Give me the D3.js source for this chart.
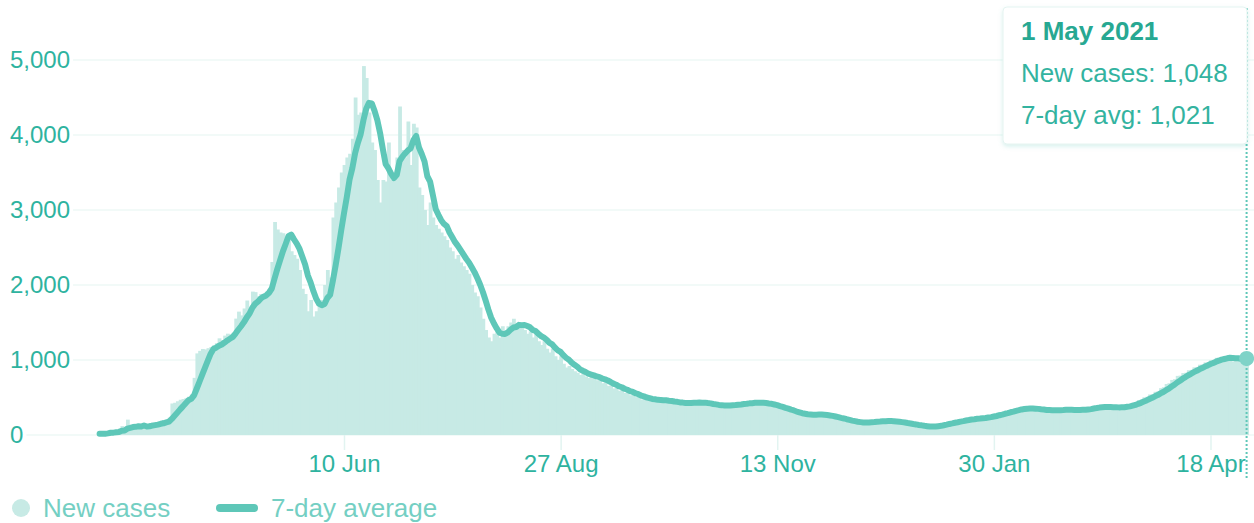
<!DOCTYPE html>
<html>
<head>
<meta charset="utf-8">
<script src="https://cdn.jsdelivr.net/npm/d3@7"></script>
<style>
  body { margin: 0; background: #fff; }
  svg { display: block; font-family: "Liberation Sans", Arial, Helvetica, sans-serif; }
</style>
</head>
<body>
<div id="chart"></div>
<script>
// Daily new cases, 14 Mar 2020 -> 1 May 2021 (one row per week)
var startDate = "2020-03-14";
var newCases = [
  17, 15, 15, 38, 67, 36, 70,
  48, 119, 51, 205, 133, 112, 92,
  99, 96, 154, 110, 157, 165, 140,
  150, 170, 200, 190, 230, 420, 430,
  450, 470, 480, 490, 510, 540, 762,
  1088, 1122, 1147, 1141, 1158, 1172, 1197,
  1223, 1289, 1266, 1325, 1351, 1344, 1362,
  1552, 1645, 1595, 1687, 1793, 1701, 1912,
  1905, 1850, 1880, 1870, 1910, 1950, 2307,
  2840, 2740, 2700, 2690, 2600, 2680, 2450,
  2400, 2350, 2200, 1950, 1880, 1650, 1800,
  1580, 1650, 1750, 1800, 2000, 2200, 2100,
  2900, 3100, 3300, 3500, 3600, 3700, 3750,
  3950, 4500, 4270, 4300, 4919, 4760, 4300,
  3900, 3800, 3400, 3100, 3400, 3380, 3900,
  3400, 3400, 3700, 4380, 3800, 3700, 4180,
  3600, 4150, 4100, 3300, 3200, 3000, 2800,
  3100, 2900, 2800, 2750, 2700, 2650, 2600,
  2500, 2450, 2350, 2400, 2300, 2250, 2200,
  2150, 2000, 1900, 1850, 1700, 1550, 1400,
  1300, 1250, 1350, 1400, 1300, 1450, 1380,
  1450, 1500, 1550, 1450, 1500, 1420, 1400,
  1350, 1380, 1300, 1350, 1250, 1200, 1250,
  1150, 1100, 1150, 1050, 1000, 1050, 950,
  900, 920, 880, 850, 830, 800, 820,
  780, 760, 800, 775, 730, 735, 690,
  700, 655, 662, 620, 630, 590, 600,
  560, 565, 530, 540, 505, 510, 475,
  480, 460, 475, 462, 470, 458, 468,
  450, 455, 435, 440, 420, 428, 415,
  430, 420, 438, 428, 442, 433, 440,
  420, 418, 398, 400, 385, 396, 390,
  400, 392, 402, 395, 408, 405, 422,
  418, 436, 428, 437, 427, 435, 426,
  432, 418, 414, 394, 391, 372, 367,
  348, 344, 323, 318, 297, 291, 272,
  270, 265, 273, 268, 275, 271, 278,
  272, 268, 252, 250, 235, 232, 217,
  214, 199, 196, 181, 178, 163, 158,
  157, 168, 166, 176, 175, 185, 183,
  190, 184, 189, 185, 188, 177, 176,
  164, 162, 151, 149, 138, 137, 126,
  125, 114, 113, 104, 105, 108, 124,
  127, 143, 145, 158, 160, 173, 175,
  189, 190, 204, 205, 217, 214, 223,
  220, 229, 226, 238, 240, 257, 259,
  277, 278, 297, 298, 316, 318, 336,
  337, 355, 356, 365, 353, 356, 344,
  347, 335, 338, 327, 329, 322, 331,
  327, 337, 332, 341, 337, 343, 332,
  333, 321, 334, 335, 349, 350, 364,
  364, 379, 373, 380, 370, 376, 367,
  372, 363, 369, 361, 380, 384, 405,
  409, 430, 437, 466, 472, 503, 509,
  540, 545, 576, 581, 625, 637, 680,
  690, 734, 744, 788, 792, 826, 830,
  864, 868, 902, 907, 937, 940, 968,
  970, 998, 1000, 1029, 1030, 1040, 1028,
  1035, 1040, 980, 1010, 1030, 1000, 1039,
  1048
];
var yTicks = [0, 1000, 2000, 3000, 4000, 5000];
var xTickDates = ["2020-06-10", "2020-08-27", "2020-11-13", "2021-01-30", "2021-04-18"];
var legendLabels = ["New cases", "7-day average"];

var W = 1254, H = 523;
var lineColor = "#5ec7b8";
var barColor = "#c7eae5";
var axisText = "#2eb39f";
var legendText = "#74cfc3";
var gridColor = "#eef8f6";

var parseDate = d3.timeParse("%Y-%m-%d");
var fmtNum = d3.format(",");
var fmtTick = d3.timeFormat("%-d %b");
var fmtTip = d3.timeFormat("%-d %B %Y");

var t0 = parseDate(startDate);
var data = newCases.map(function(v, i) {
  var win = newCases.slice(Math.max(0, i - 6), i + 1);
  return { date: d3.timeDay.offset(t0, i), value: v, avg: d3.mean(win) };
});
var last = data[data.length - 1];

var x = d3.scaleTime().domain([t0, last.date]).range([99.6, 1246.6]);
var y = d3.scaleLinear().domain([0, 5000]).range([435, 60]);
var step = x(data[1].date) - x(data[0].date);

var svg = d3.select("#chart").append("svg")
  .attr("width", W).attr("height", H);

var defs = svg.append("defs");
var shadow = defs.append("filter").attr("id", "tipShadow")
  .attr("x", "-10%").attr("y", "-10%").attr("width", "120%").attr("height", "130%");
shadow.append("feDropShadow")
  .attr("dx", 0).attr("dy", 2).attr("stdDeviation", 2)
  .attr("flood-color", "#5ec7b8").attr("flood-opacity", 0.25);

// y labels + grid
var yAxisG = svg.append("g").attr("class", "y axis");
yTicks.forEach(function(t) {
  var label = yAxisG.append("text")
    .attr("x", 10).attr("y", y(t)).attr("dy", "0.35em")
    .attr("fill", axisText).attr("font-size", 24)
    .text(fmtNum(t));
  var len = label.node().getComputedTextLength();
  yAxisG.insert("line", "text")
    .attr("x1", 10 + len + 3).attr("x2", W)
    .attr("y1", y(t)).attr("y2", y(t))
    .attr("stroke", gridColor).attr("stroke-width", 1.5);
});

// x axis
var xAxis = d3.axisBottom(x)
  .tickValues(xTickDates.map(parseDate))
  .tickFormat(fmtTick)
  .tickSize(15).tickPadding(5);
var xAxisG = svg.append("g").attr("class", "x axis")
  .attr("transform", "translate(0," + y(0) + ")")
  .call(xAxis);
xAxisG.select(".domain").remove();
xAxisG.selectAll("line").attr("stroke", "#e2f4f1").attr("stroke-width", 1.5);
xAxisG.selectAll("text").attr("fill", axisText).attr("font-size", 24)
  .attr("font-family", "Liberation Sans, Arial, sans-serif");

// bars (a little overlap so no seams show between days)
svg.append("g").attr("class", "bars")
  .selectAll("rect").data(data).enter().append("rect")
  .attr("x", function(d) { return x(d.date) - step / 2; })
  .attr("width", step + 1)
  .attr("y", function(d) { return y(d.value); })
  .attr("height", function(d) { return y(0) - y(d.value); })
  .attr("fill", barColor);

// 7-day average line
var line = d3.line()
  .x(function(d) { return x(d.date); })
  .y(function(d) { return y(d.avg); });
svg.append("path").datum(data)
  .attr("d", line)
  .attr("fill", "none")
  .attr("stroke", lineColor)
  .attr("stroke-width", 6)
  .attr("stroke-linejoin", "round")
  .attr("stroke-linecap", "round");

// hover marker on the last day
var lx = x(last.date);
svg.append("line")
  .attr("x1", lx).attr("x2", lx).attr("y1", 8).attr("y2", 478)
  .attr("stroke", lineColor).attr("stroke-width", 2)
  .attr("stroke-dasharray", "2,2");
svg.append("circle")
  .attr("cx", lx).attr("cy", y(last.avg)).attr("r", 7.5)
  .attr("fill", "#7fd3c8");

// tooltip
var tip = svg.append("g").attr("class", "tooltip");
tip.append("rect")
  .attr("x", 1003).attr("y", 7).attr("width", 244).attr("height", 137)
  .attr("rx", 4)
  .attr("fill", "#fff").attr("stroke", "#e4f4f1")
  .attr("filter", "url(#tipShadow)");
tip.append("text").attr("x", 1021).attr("y", 40)
  .attr("font-size", 26).attr("font-weight", "bold").attr("fill", "#27a892")
  .text(fmtTip(last.date));
tip.append("text").attr("x", 1021).attr("y", 82)
  .attr("font-size", 26).attr("fill", "#33b3a0")
  .text("New cases: " + fmtNum(last.value));
tip.append("text").attr("x", 1021).attr("y", 124)
  .attr("font-size", 26).attr("fill", "#33b3a0")
  .text("7-day avg: " + fmtNum(Math.round(last.avg)));

// legend
var legend = svg.append("g").attr("class", "legend");
legend.append("circle").attr("cx", 21).attr("cy", 508).attr("r", 9).attr("fill", barColor);
legend.append("text").attr("x", 43).attr("y", 517)
  .attr("font-size", 26).attr("fill", legendText).text(legendLabels[0]);
legend.append("line")
  .attr("x1", 220).attr("x2", 254).attr("y1", 508).attr("y2", 508)
  .attr("stroke", lineColor).attr("stroke-width", 8).attr("stroke-linecap", "round");
legend.append("text").attr("x", 271).attr("y", 517)
  .attr("font-size", 26).attr("fill", legendText).text(legendLabels[1]);
</script>
</body>
</html>
